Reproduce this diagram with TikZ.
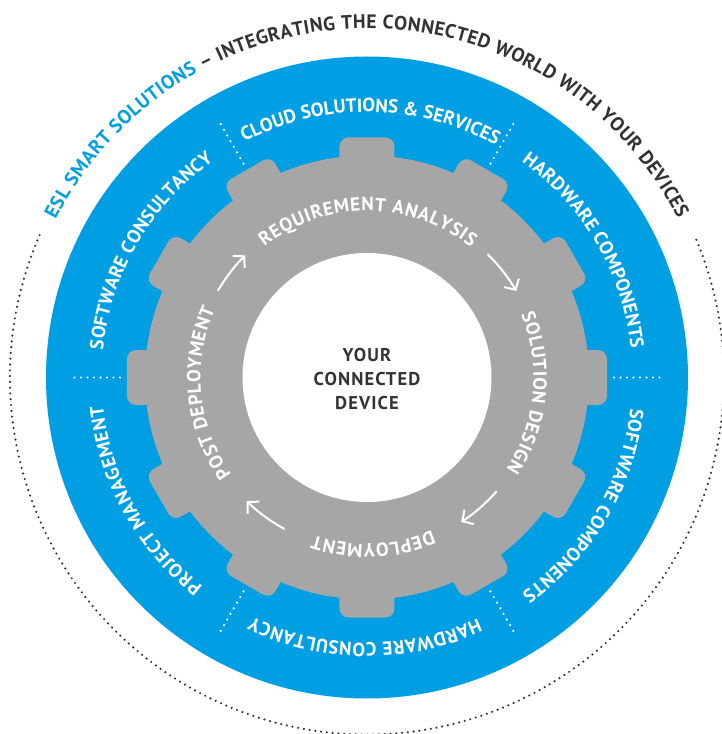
\documentclass[tikz,border=0pt]{standalone}
\usepackage{fontspec}
\setmainfont{PT Sans}
\newfontfamily\dinfont[LetterSpace=6]{PT Sans}
\usetikzlibrary{decorations.text, arrows.meta}
\definecolor{eslblue}{RGB}{0,159,227}
\definecolor{gearGray}{RGB}{166,166,166}
\definecolor{inkGray}{RGB}{51,51,51}
\newcommand{\ringfont}{\bfseries\fontsize{19}{19}\selectfont\color{white}}
\newcommand{\outerfont}[1]{\bfseries\fontsize{19.5}{19.5}\selectfont\color{#1}}

\begin{document}
\begin{tikzpicture}[x = 1pt, y = 1pt,
		arctext/.style = {decorate, decoration = {text along path, text align = {fit to path}, text = {#1}}},
		sepdots/.style = {white, line width = 2.4pt, line cap = round, dash pattern = on 0pt off 6.5pt},
		outerdots/.style = {inkGray, line width = 2.4pt, line cap = round, dash pattern = on 0pt off 5.8pt},
		cycarrow/.style = {white, line width = 2pt, line cap = round, -{Straight Barb[length = 8pt, width = 17pt]}}]
		\useasboundingbox (-367,-356.5) rectangle (354,377.5);
		
		\draw [outerdots] (156.5:357) arc [start angle = 156.5, end angle = 383.5, radius = 357];
		\path [arctext = {|\outerfont{eslblue}|ESL SMART SOLUTIONS |\outerfont{inkGray}|{–} INTEGRATING THE CONNECTED WORLD WITH YOUR DEVICES}]
			(153.1:349) arc [start angle = 153.1, end angle = 27, radius = 349];
		
		\fill [eslblue] (0,0) circle [radius = 321];
		\foreach \a in {0,60,...,300}
			\draw [sepdots] (\a:247) -- (\a:293);
		
		\path [arctext = {|\ringfont|CLOUD SOLUTIONS {\&} SERVICES}] (117.5:265.5) arc [start angle = 117.5, end angle = 61.7, radius = 265.5];
		\path [arctext = {|\ringfont|HARDWARE COMPONENTS}] (54.4:265.5) arc [start angle = 54.4, end angle = 6.2, radius = 265.5];
		\path [arctext = {|\ringfont|SOFTWARE COMPONENTS}] (-6.7:265.5) arc [start angle = -6.7, end angle = -54.4, radius = 265.5];
		\path [arctext = {|\ringfont|HARDWARE CONSULTANCY}] (-65.3:265.5) arc [start angle = -65.3, end angle = -115.6, radius = 265.5];
		\path [arctext = {|\ringfont|PROJECT MANAGEMENT}] (231.8:265.5) arc [start angle = 231.8, end angle = 186.2, radius = 265.5];
		\path [arctext = {|\ringfont|SOFTWARE CONSULTANCY}] (174.1:265.5) arc [start angle = 174.1, end angle = 125.3, radius = 265.5];
		
		\fill [gearGray] (0,0) circle [radius = 222];
		\foreach \a in {0,30,...,330}
			\fill [gearGray, rotate = \a, rounded corners = 9pt] (200,-27.5) rectangle (240,27.5);
		\fill [white] (0,0) circle [radius = 124.5];
		
		\path [arctext = {|\ringfont|REQUIREMENT ANALYSIS}] (128:166.5) arc [start angle = 128, end angle = 51.4, radius = 166.5];
		\path [arctext = {|\ringfont|SOLUTION DESIGN}] (22.4:166.5) arc [start angle = 22.4, end angle = -33.4, radius = 166.5];
		\path [arctext = {|\ringfont|DEPLOYMENT}] (-67.1:166.5) arc [start angle = -67.1, end angle = -108.7, radius = 166.5];
		\path [arctext = {|\ringfont|POST DEPLOYMENT}] (215.5:166.5) arc [start angle = 215.5, end angle = 155.9, radius = 166.5];
		
		\draw [cycarrow] (45.5:172.5) arc [start angle = 45.5, end angle = 30.1, radius = 172.5];
		\draw [cycarrow] (-41.4:172.5) arc [start angle = -41.4, end angle = -56.9, radius = 172.5];
		\draw [cycarrow] (-118.7:172.5) arc [start angle = -118.7, end angle = -134.2, radius = 172.5];
		\draw [cycarrow] (149.7:172.5) arc [start angle = 149.7, end angle = 134.9, radius = 172.5];
		
		\node (dev) at (0,-1.5) [align = center, text = inkGray, font = \dinfont\bfseries\fontsize{18.5}{24}\selectfont] {YOUR\\CONNECTED\\DEVICE};
\end{tikzpicture}
\end{document}
